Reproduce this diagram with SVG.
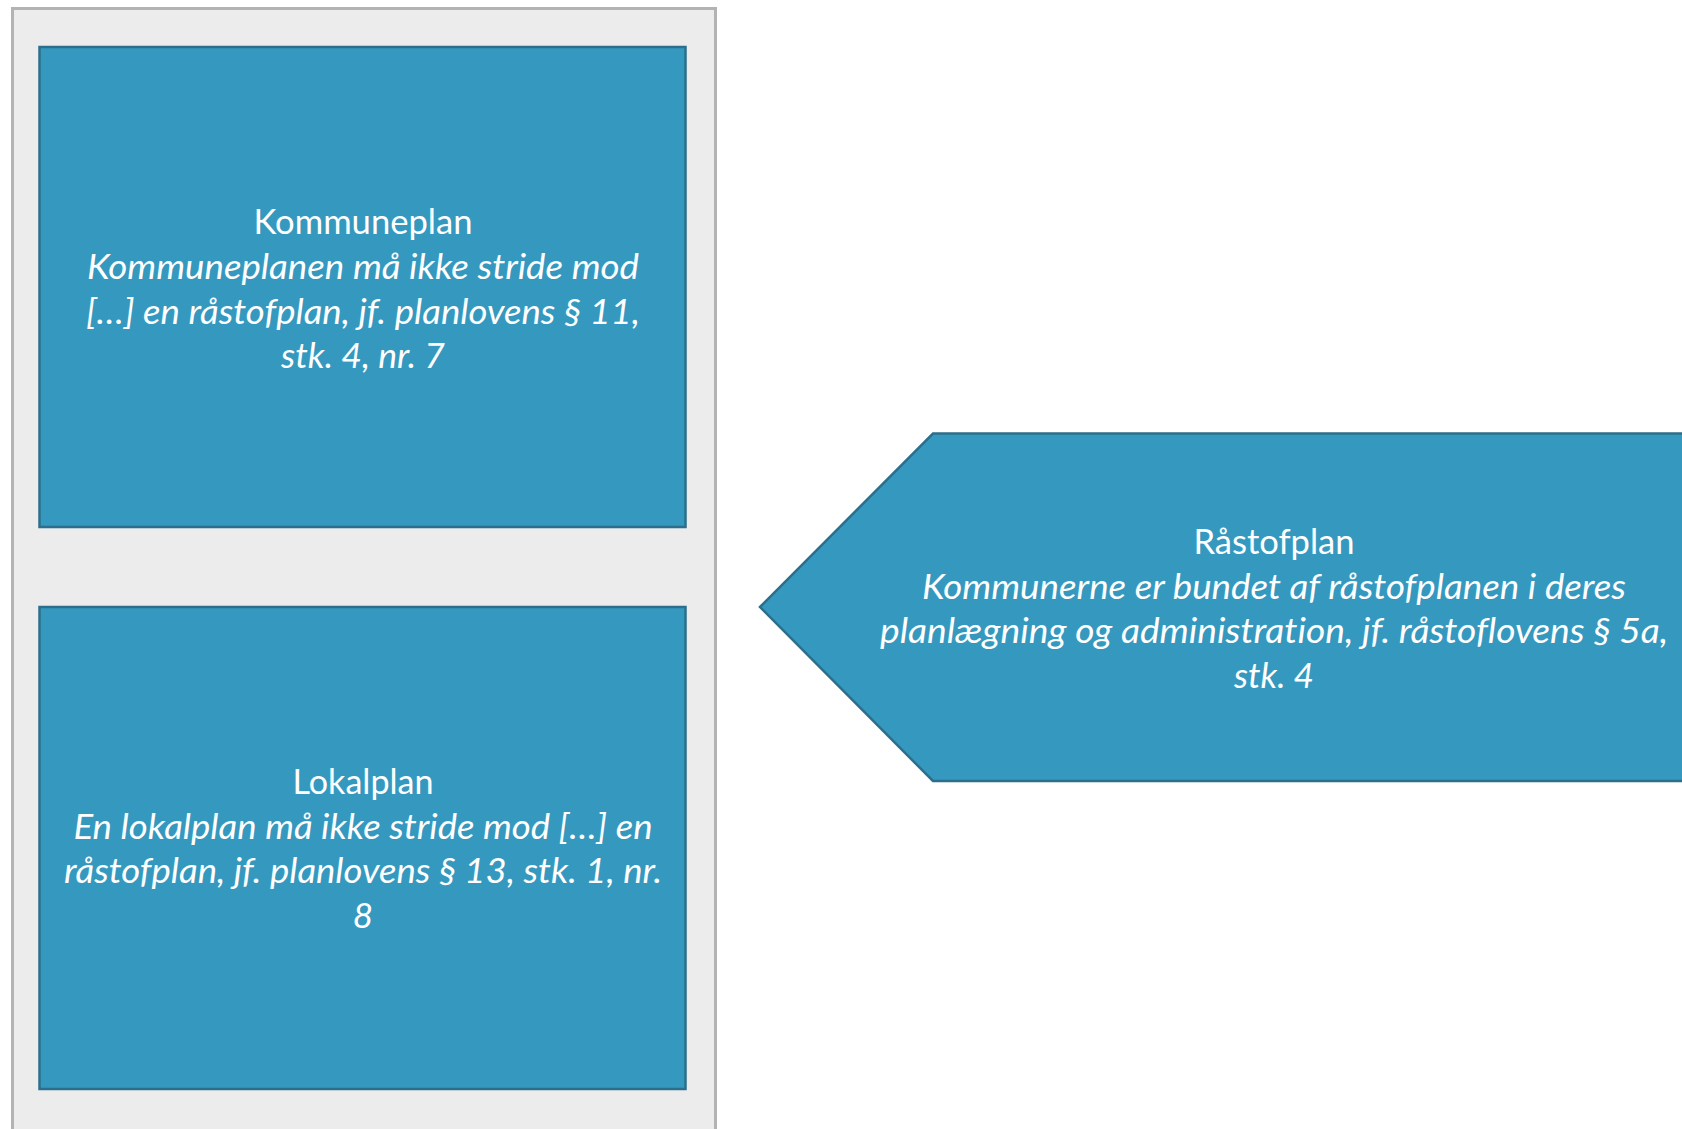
<svg xmlns="http://www.w3.org/2000/svg" width="1682" height="1129" viewBox="0 0 1682 1129">
  <style>
    .box { fill: #3599bf; stroke: #2b6f8c; stroke-width: 2.5; }
    .frame { fill: #ececec; stroke: #b3b3b3; stroke-width: 3; }
    .t { font-family: Lato, "Liberation Sans", sans-serif; font-size: 35px; fill: #ffffff; text-anchor: middle; font-variant-ligatures: none; }
    .i { font-style: italic; }
  </style>
  <rect width="1682" height="1129" fill="#ffffff"/>

  <!-- Plan container on the left -->
  <g id="container">
    <rect class="frame" x="12.5" y="8.5" width="703" height="1140"/>
  </g>

  <g id="kommuneplan">
    <rect class="box" x="39.5" y="47" width="646" height="480"/>
    <text class="t" x="363" y="234" textLength="219" lengthAdjust="spacingAndGlyphs">Kommuneplan</text>
    <text class="t i" x="363" y="279" textLength="552" lengthAdjust="spacingAndGlyphs">Kommuneplanen må ikke stride mod</text>
    <text class="t i" x="363" y="324" textLength="554" lengthAdjust="spacingAndGlyphs">[…] en råstofplan, jf. planlovens § 11,</text>
    <text class="t i" x="363" y="368" textLength="164" lengthAdjust="spacingAndGlyphs">stk. 4, nr. 7</text>
  </g>

  <g id="lokalplan">
    <rect class="box" x="39.5" y="607" width="646" height="482"/>
    <text class="t" x="363" y="794" textLength="141" lengthAdjust="spacingAndGlyphs">Lokalplan</text>
    <text class="t i" x="363" y="839" textLength="579" lengthAdjust="spacingAndGlyphs">En lokalplan må ikke stride mod […] en</text>
    <text class="t i" x="363" y="883" textLength="598" lengthAdjust="spacingAndGlyphs">råstofplan, jf. planlovens § 13, stk. 1, nr.</text>
    <text class="t i" x="363" y="928">8</text>
  </g>

  <!-- Pointed shape for the raw-material plan -->
  <g id="raastofplan">
    <path class="box" d="M760,607 L933,433.5 L1690,433.5 L1690,781 L933,781 Z"/>
    <text class="t" x="1274" y="554" textLength="161" lengthAdjust="spacingAndGlyphs">Råstofplan</text>
    <text class="t i" x="1274" y="599" textLength="704" lengthAdjust="spacingAndGlyphs">Kommunerne er bundet af råstofplanen i deres</text>
    <text class="t i" x="1274" y="643" textLength="788" lengthAdjust="spacingAndGlyphs">planlægning og administration, jf. råstoflovens § 5a,</text>
    <text class="t i" x="1274" y="688" textLength="80" lengthAdjust="spacingAndGlyphs">stk. 4</text>
  </g>

  <g id="connectors"/>
</svg>
